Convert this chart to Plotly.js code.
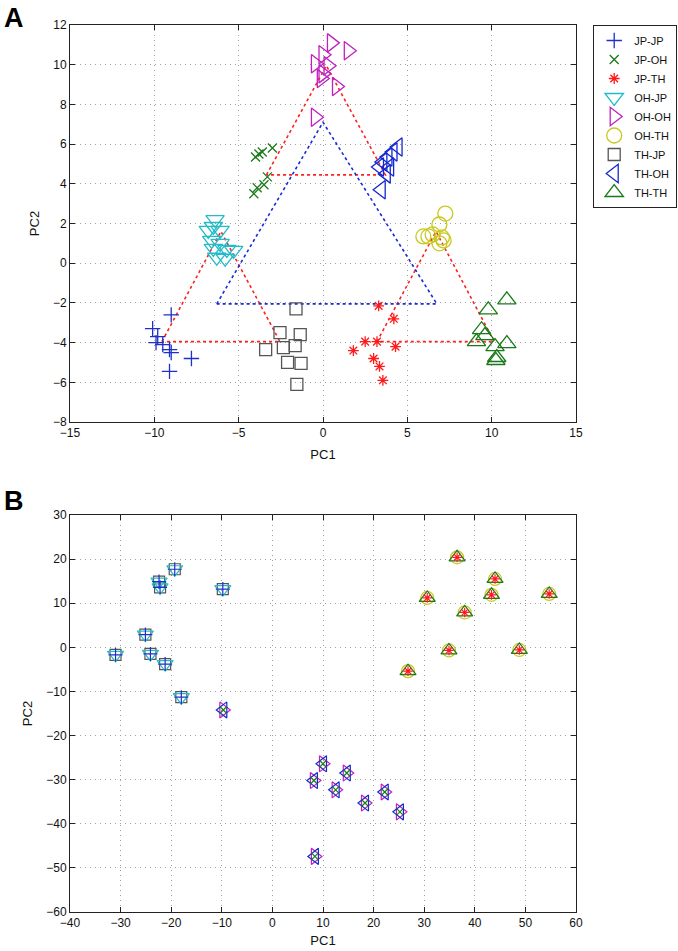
<!DOCTYPE html>
<html>
<head>
<meta charset="utf-8">
<script src="https://cdn.plot.ly/plotly-3.0.1.min.js"></script>
<style>html,body{margin:0;padding:0;background:#fff}#chart{width:678px;height:951px}</style>
</head>
<body>
<div id="chart"></div>
<script>
// ---------- Panel A data ----------
const seriesNames = ["JP-JP","JP-OH","JP-TH","OH-JP","OH-OH","OH-TH","TH-JP","TH-OH","TH-TH"];

const jpjpA_x = [-9.0,-10.1,-9.8,-9.9,-9.5,-9.1,-9.0,-7.8,-9.1];
const jpjpA_y = [-2.6,-3.3,-3.7,-4.0,-4.1,-4.35,-4.5,-4.8,-5.45];
const jpohA_x = [-4.0,-3.8,-3.6,-3.0,-3.3,-3.5,-3.9,-4.1];
const jpohA_y = [5.35,5.5,5.6,5.8,4.35,3.95,3.8,3.5];
const jpthA_x = [3.3,4.2,2.5,3.2,4.3,1.8,3.0,3.35,3.55];
const jpthA_y = [-2.15,-2.8,-3.95,-3.95,-4.2,-4.4,-4.8,-5.2,-5.9];
const ohjpA_x = [-6.4,-6.5,-6.8,-6.1,-6.6,-6.1,-6.5,-5.7,-5.3,-6.3,-5.8];
const ohjpA_y = [2.2,1.85,1.65,1.65,1.15,1.0,0.75,0.7,0.65,0.3,0.25];
const ohohA_x = [0.5,1.5,-0.45,0.0,0.3,0.0,-0.1,0.8,-0.45];
const ohohA_y = [11.1,10.7,10.05,10.5,9.95,9.55,9.3,8.9,7.35];
const ohthA_x = [7.25,6.9,5.95,6.25,6.5,7.05,6.9,7.15];
const ohthA_y = [2.5,1.95,1.35,1.35,1.45,1.3,1.0,1.15];
const thjpA_x = [-1.6,-2.55,-1.35,-3.4,-2.35,-1.65,-2.1,-1.3,-1.55];
const thjpA_y = [-2.3,-3.5,-3.6,-4.35,-4.25,-4.15,-5.0,-5.05,-6.1];
const thohA_x = [4.45,4.15,3.85,3.55,3.35,3.95,3.75,3.45];
const thohA_y = [5.85,5.6,5.35,5.1,4.85,4.85,4.5,3.7];
const ththA_x = [10.9,9.8,9.4,9.6,9.1,10.2,10.9,10.3,10.25];
const ththA_y = [-1.85,-2.35,-3.35,-3.65,-3.95,-4.2,-4.05,-4.75,-4.9];

// triangles joining group means (panel A)
const redTri1_x = [-9.55,-6.05,-2.55,-9.55], redTri1_y = [-3.95,1.6,-3.95,-3.95];
const redTri2_x = [-3.35,0.2,3.7,-3.35],     redTri2_y = [4.45,9.95,4.45,4.45];
const redTri3_x = [3.2,6.7,10.15,3.2],       redTri3_y = [-3.95,1.6,-3.95,-3.95];
const blueTri_x = [-6.3,0.0,6.75,-6.3],      blueTri_y = [-2.05,7.1,-2.05,-2.05];

// ---------- Panel B data (three coinciding clusters) ----------
const bJP_x = [-19.3,-22.4,-22.2,-9.8,-25.1,-31.0,-24.1,-21.2,-18.0];
const bJP_y = [17.7,14.9,13.6,13.2,2.9,-1.7,-1.5,-3.8,-11.3];
const bOH_x = [-9.7,10.0,8.2,14.7,12.5,22.2,18.3,25.2,8.4];
const bOH_y = [-14.2,-26.4,-30.2,-28.5,-32.3,-32.8,-35.3,-37.3,-47.4];
const bTH_x = [36.5,44.0,30.6,43.3,54.7,38.0,34.9,48.8,26.8];
const bTH_y = [20.4,15.5,11.2,11.9,12.1,7.9,-0.7,-0.6,-5.4];

// ---------- styles ----------
const styles = {
  "JP-JP": {symbol:"cross-thin-open", color:"#1e30c8", sA:11, sB:10},
  "JP-OH": {symbol:"x-thin-open", color:"#1b7a1b", sA:9, sB:7},
  "JP-TH": {symbol:"asterisk-open", color:"#ff1a1a", sA:9, sB:8},
  "OH-JP": {symbol:"triangle-down-open", color:"#22bcc8", sA:16, sB:14},
  "OH-OH": {symbol:"triangle-right-open", color:"#c020c0", sA:16, sB:14},
  "OH-TH": {symbol:"circle-open", color:"#c8c820", sA:15, sB:13},
  "TH-JP": {symbol:"square-open", color:"#555555", sA:12, sB:11},
  "TH-OH": {symbol:"triangle-left-open", color:"#1428d0", sA:16, sB:14},
  "TH-TH": {symbol:"triangle-up-open", color:"#1a7a1a", sA:16, sB:14}
};

const dataA = {
  "JP-JP":[jpjpA_x,jpjpA_y], "JP-OH":[jpohA_x,jpohA_y], "JP-TH":[jpthA_x,jpthA_y],
  "OH-JP":[ohjpA_x,ohjpA_y], "OH-OH":[ohohA_x,ohohA_y], "OH-TH":[ohthA_x,ohthA_y],
  "TH-JP":[thjpA_x,thjpA_y], "TH-OH":[thohA_x,thohA_y], "TH-TH":[ththA_x,ththA_y]
};
const dataB = {
  "JP-JP":[bJP_x,bJP_y], "OH-JP":[bJP_x,bJP_y], "TH-JP":[bJP_x,bJP_y],
  "JP-OH":[bOH_x,bOH_y], "OH-OH":[bOH_x,bOH_y], "TH-OH":[bOH_x,bOH_y],
  "JP-TH":[bTH_x,bTH_y], "OH-TH":[bTH_x,bTH_y], "TH-TH":[bTH_x,bTH_y]
};

const traces = [];
[[redTri1_x,redTri1_y,"#ff2020"],[redTri2_x,redTri2_y,"#ff2020"],[redTri3_x,redTri3_y,"#ff2020"],[blueTri_x,blueTri_y,"#1a2ad8"]]
.forEach(t => traces.push({x:t[0], y:t[1], type:"scatter", mode:"lines", xaxis:"x", yaxis:"y",
  line:{color:t[2], width:1.6, dash:"dot"}, showlegend:false, hoverinfo:"skip"}));

seriesNames.forEach(n => {
  const s = styles[n];
  traces.push({x:dataA[n][0], y:dataA[n][1], type:"scatter", mode:"markers", name:n,
    xaxis:"x", yaxis:"y", legendgroup:n,
    marker:{symbol:s.symbol, size:s.sA, color:s.color, line:{color:s.color, width:1.3}}});
});
const orderB = ["TH-JP","OH-JP","JP-JP","OH-TH","TH-TH","JP-TH","OH-OH","TH-OH","JP-OH"];
orderB.forEach(n => {
  const s = styles[n];
  traces.push({x:dataB[n][0], y:dataB[n][1], type:"scatter", mode:"markers", name:n,
    xaxis:"x2", yaxis:"y2", legendgroup:n, showlegend:false,
    marker:{symbol:s.symbol, size:s.sB, color:s.color, line:{color:s.color, width:1.2}}});
});

const tickFont = {family:"Liberation Sans, Arial, Helvetica, sans-serif", size:12, color:"#111"};
function ax(extra){
  return Object.assign({
    showline:true, linecolor:"#222", linewidth:1, mirror:"ticks",
    ticks:"inside", ticklen:5, tickcolor:"#222",
    showgrid:true, gridcolor:"#a0a0a0", griddash:"1px,4px", gridwidth:1,
    zeroline:false, tickfont:tickFont, fixedrange:true, automargin:false
  }, extra);
}
const titleFont = {family:"Liberation Sans, Arial, Helvetica, sans-serif", size:13, color:"#111"};
const layout = {
  width:678, height:951,
  margin:{l:70, r:102, t:25, b:39, autoexpand:false},
  paper_bgcolor:"#fff", plot_bgcolor:"#fff",
  showlegend:true,
  xaxis: ax({domain:[0,1], range:[-15,15], tickvals:[-15,-10,-5,0,5,10,15], anchor:"y",
    title:{text:"PC1", font:titleFont, standoff:10}}),
  yaxis: ax({domain:[0.5524,1], range:[-8,12], tickvals:[-8,-6,-4,-2,0,2,4,6,8,10,12], anchor:"x",
    title:{text:"PC2", font:titleFont, standoff:10}}),
  xaxis2: ax({domain:[0,1], range:[-40,60], tickvals:[-40,-30,-20,-10,0,10,20,30,40,50,60], anchor:"y2",
    title:{text:"PC1", font:titleFont, standoff:6}}),
  yaxis2: ax({domain:[0,0.4476], range:[-60,30], tickvals:[-60,-50,-40,-30,-20,-10,0,10,20,30], anchor:"x2",
    title:{text:"PC2", font:titleFont, standoff:10}}),
  legend:{x:1.034, y:1.0, xanchor:"left", yanchor:"top", bordercolor:"#222", borderwidth:1,
    bgcolor:"#fff", font:{family:"Liberation Sans, Arial, sans-serif", size:11, color:"#111"},
    tracegroupgap:0, itemwidth:30},
  annotations:[
    {text:"<b>A</b>", xref:"paper", yref:"paper", x:-0.134, y:1.027, xanchor:"left", yanchor:"top",
     showarrow:false, font:{family:"Liberation Sans, Arial, sans-serif", size:27, color:"#000"}},
    {text:"<b>B</b>", xref:"paper", yref:"paper", x:-0.134, y:0.4634, xanchor:"left", yanchor:"middle",
     showarrow:false, font:{family:"Liberation Sans, Arial, sans-serif", size:27, color:"#000"}}
  ]
};
Plotly.newPlot("chart", traces, layout, {displayModeBar:false, staticPlot:true});
</script>
</body>
</html>
